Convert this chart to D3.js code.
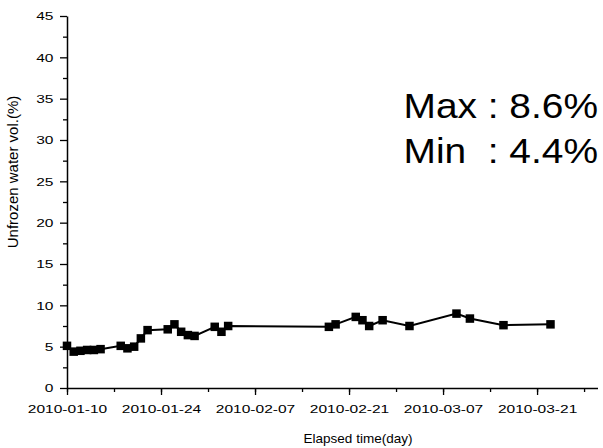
<!DOCTYPE html>
<html>
<head>
<meta charset="utf-8">
<script src="https://cdn.jsdelivr.net/npm/d3@7"></script>
<style>
  body { margin: 0; background: #fff; }
  text { font-family: "Liberation Sans", Arial, sans-serif; fill: #000; }
  text.note { white-space: pre; }
</style>
</head>
<body>
<div class="chart"></div>
<script>
// sample dates and unfrozen water content (%)
var dates = ["2010-01-10","2010-01-11","2010-01-12","2010-01-13","2010-01-14","2010-01-15",
  "2010-01-18","2010-01-19","2010-01-20","2010-01-21","2010-01-22",
  "2010-01-25","2010-01-26","2010-01-27","2010-01-28","2010-01-29",
  "2010-02-01","2010-02-02","2010-02-03",
  "2010-02-18","2010-02-19","2010-02-22","2010-02-23","2010-02-24","2010-02-26",
  "2010-03-02","2010-03-09","2010-03-11","2010-03-16","2010-03-23"];
var water = [5.1, 4.4, 4.5, 4.6, 4.6, 4.7,
  5.1, 4.8, 5.0, 6.0, 7.0,
  7.1, 7.7, 6.8, 6.4, 6.3,
  7.4, 6.8, 7.5,
  7.4, 7.7, 8.6, 8.2, 7.5, 8.2,
  7.5, 9.0, 8.4, 7.6, 7.7];

var xTickLabels = ["2010-01-10","2010-01-24","2010-02-07","2010-02-21","2010-03-07","2010-03-21"];
var yTicks = [0, 5, 10, 15, 20, 25, 30, 35, 40, 45];
var noteLines = ["Max : 8.6%", "Min  : 4.4%"];

var parse = d3.utcParse("%Y-%m-%d");
var data = dates.map(function(d, i) { return { date: parse(d), value: water[i] }; });

var svgWidth = 603, svgHeight = 448;
var svg = d3.select(".chart").append("svg")
  .attr("width", svgWidth)
  .attr("height", svgHeight);

// scales
var x = d3.scaleUtc()
  .domain([parse("2010-01-10"), parse("2010-03-30")])
  .range([67, 597.5]);
var y = d3.scaleLinear()
  .domain([0, 45])
  .range([388, 16]);

var stretch = 1.35; // tick labels in the picture are drawn wide

// x axis: minor ticks weekly, labelled ticks every two weeks
var minorX = d3.utcDay.range(parse("2010-01-10"), parse("2010-03-30"), 7);
svg.append("g")
  .attr("transform", "translate(0,388)")
  .call(d3.axisBottom(x).tickValues(minorX).tickSize(4).tickFormat(""))
  .call(function(g) { g.select(".domain").remove(); })
  .selectAll("line").attr("stroke-width", 1.3);

var xAxis = svg.append("g")
  .attr("transform", "translate(0,388)")
  .call(d3.axisBottom(x)
    .tickValues(xTickLabels.map(parse))
    .tickSize(7)
    .tickSizeOuter(0)
    .tickPadding(10)
    .tickFormat(d3.utcFormat("%Y-%m-%d")));
xAxis.select(".domain").attr("stroke-width", 1.5);
xAxis.selectAll("line").attr("stroke-width", 1.3);
xAxis.selectAll("text")
  .style("font-size", "11.5px")
  .attr("transform", "scale(" + stretch + ",1)");

// y axis
svg.append("g")
  .attr("transform", "translate(67,0)")
  .call(d3.axisLeft(y).tickValues(d3.range(2.5, 45, 5)).tickSize(4).tickFormat(""))
  .call(function(g) { g.select(".domain").remove(); })
  .selectAll("line").attr("stroke-width", 1.3);

var yAxis = svg.append("g")
  .attr("transform", "translate(67,0)")
  .call(d3.axisLeft(y).tickValues(yTicks).tickSize(7).tickSizeOuter(0));
yAxis.select(".domain").attr("stroke-width", 1.5);
yAxis.selectAll("line").attr("stroke-width", 1.3);
yAxis.selectAll("text")
  .style("font-size", "11.5px")
  .attr("x", -13.5 / stretch)
  .attr("transform", "scale(" + stretch + ",1)");

// axis titles
svg.append("text")
  .attr("x", 358)
  .attr("y", 443)
  .attr("text-anchor", "middle")
  .style("font-size", "13.5px")
  .text("Elapsed time(day)");

svg.append("text")
  .attr("transform", "translate(18,172) rotate(-90)")
  .attr("text-anchor", "middle")
  .style("font-size", "15px")
  .text("Unfrozen water vol.(%)");

// line + square markers
var line = d3.line()
  .x(function(d) { return x(d.date); })
  .y(function(d) { return y(d.value); });

svg.append("path")
  .datum(data)
  .attr("d", line)
  .attr("fill", "none")
  .attr("stroke", "#000")
  .attr("stroke-width", 2);

var sq = 8.5;
svg.selectAll("rect.pt")
  .data(data)
  .enter()
  .append("rect")
  .attr("class", "pt")
  .attr("x", function(d) { return x(d.date) - sq / 2; })
  .attr("y", function(d) { return y(d.value) - sq / 2; })
  .attr("width", sq)
  .attr("height", sq)
  .attr("fill", "#000");

// Max / Min note
svg.selectAll("text.note")
  .data(noteLines)
  .enter()
  .append("text")
  .attr("class", "note")
  .attr("x", 403.5)
  .attr("y", function(d, i) { return i === 0 ? 118 : 162.5; })
  .attr("textLength", 194.5)
  .attr("lengthAdjust", "spacingAndGlyphs")
  .style("font-size", "35px")
  .text(function(d) { return d; });
</script>
</body>
</html>
